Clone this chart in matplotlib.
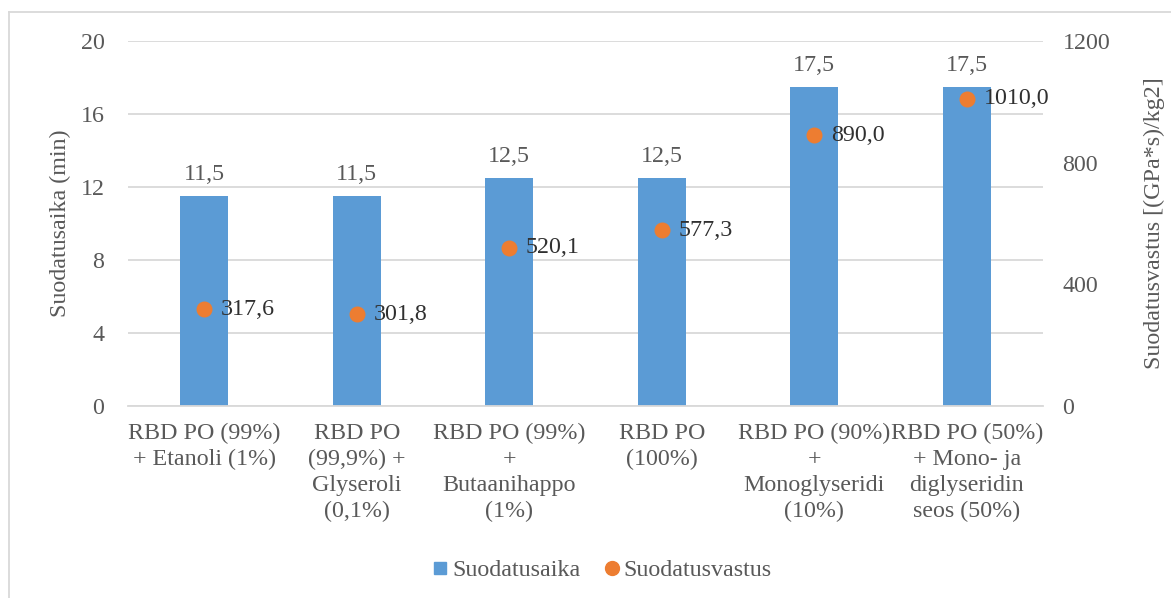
import matplotlib
matplotlib.use("Agg")
import matplotlib.pyplot as plt
from matplotlib.lines import Line2D

categories = [
    "RBD PO (99%)\n+ Etanoli (1%)",
    "RBD PO\n(99,9%) +\nGlyseroli\n(0,1%)",
    "RBD PO (99%)\n+\nButaanihappo\n(1%)",
    "RBD PO\n(100%)",
    "RBD PO (90%)\n+\nMonoglyseridi\n(10%)",
    "RBD PO (50%)\n+ Mono- ja\ndiglyseridin\nseos (50%)",
]
suodatusaika = [11.5, 11.5, 12.5, 12.5, 17.5, 17.5]
suodatusvastus = [317.6, 301.8, 520.1, 577.3, 890.0, 1010.0]
left_ticks = [0, 4, 8, 12, 16, 20]
right_ticks = [0, 400, 800, 1200]

BLUE = "#5B9BD5"
ORANGE = "#ED7D31"
TEXT = "#595959"
GRID = "#D9D9D9"

SERIF = ["Liberation Serif", "DejaVu Serif"]
plt.rcParams["font.family"] = SERIF
FS = 17.3

W, H = 1171, 598
fig = plt.figure(figsize=(W / 100, H / 100), dpi=100)
ax = fig.add_axes([128 / W, 1 - 406 / H, (1043 - 128) / W, (406 - 41) / H])
ax2 = ax.twinx()

x = list(range(len(categories)))
ax.bar(x, suodatusaika, width=0.315, color=BLUE, zorder=2)
ax.set_xlim(-0.5, len(categories) - 0.5)
ax.set_ylim(0, 20)
ax.set_yticks(left_ticks)
ax.set_yticklabels([str(t) for t in left_ticks], fontfamily=SERIF)
ax.yaxis.grid(True, color=GRID, linewidth=1.3, zorder=0)
ax.set_axisbelow(True)
for s in ["top", "right", "left"]:
    ax.spines[s].set_visible(False)
ax.spines["bottom"].set_color(GRID)
ax.spines["bottom"].set_linewidth(1.3)
ax.tick_params(axis="both", length=0, labelsize=FS, colors=TEXT)
ax.tick_params(axis="y", pad=17)
ax.tick_params(axis="x", pad=12)
ax.set_xticks(x)
ax.set_xticklabels(categories, fontsize=FS, color=TEXT, linespacing=1.32,
                   fontfamily=SERIF)
ax.set_ylabel("Suodatusaika (min)", fontsize=FS, color=TEXT, labelpad=7,
              fontfamily=SERIF)

for xi, v in zip(x, suodatusaika):
    ax.annotate(f"{v:.1f}".replace(".", ","), (xi, v), xytext=(0, 8),
                textcoords="offset points", ha="center", va="bottom",
                fontsize=FS, color=TEXT, fontfamily=SERIF)

ax2.plot(x, suodatusvastus, linestyle="none", marker="o", markersize=10.5,
         color=ORANGE, zorder=3)
ax2.set_ylim(0, 1200)
ax2.set_yticks(right_ticks)
ax2.set_yticklabels([str(t) for t in right_ticks], fontfamily=SERIF)
for s in ["top", "right", "left", "bottom"]:
    ax2.spines[s].set_visible(False)
ax2.tick_params(axis="y", length=0, labelsize=FS, colors=TEXT, pad=14)
ax2.set_ylabel("Suodatusvastus [(GPa*s)/kg2]", fontsize=FS, color=TEXT,
               labelpad=24, fontfamily=SERIF)

for xi, v in zip(x, suodatusvastus):
    ax2.annotate(f"{v:.1f}".replace(".", ","), (xi, v), xytext=(12, 0),
                 textcoords="offset points", ha="left", va="center",
                 fontsize=FS, color="#303030", fontfamily=SERIF)

handles = [
    Line2D([], [], linestyle="none", marker="s", markersize=9, color=BLUE),
    Line2D([], [], linestyle="none", marker="o", markersize=10, color=ORANGE),
]
fig.legend(handles, ["Suodatusaika", "Suodatusvastus"], loc="center",
           bbox_to_anchor=(600 / W, 1 - 570 / H), ncol=2, frameon=False,
           prop={"family": SERIF, "size": FS}, labelcolor=TEXT,
           handletextpad=0.0, columnspacing=0.8, handlelength=1.0)

# outer chart frame
fig.add_artist(Line2D([9 / W, 1.0], [1 - 12 / H, 1 - 12 / H], color=GRID,
                      linewidth=1.3, transform=fig.transFigure))
fig.add_artist(Line2D([9 / W, 9 / W], [1 - 12 / H, 0.0], color=GRID,
                      linewidth=1.3, transform=fig.transFigure))

fig.savefig("out.png", dpi=100)
